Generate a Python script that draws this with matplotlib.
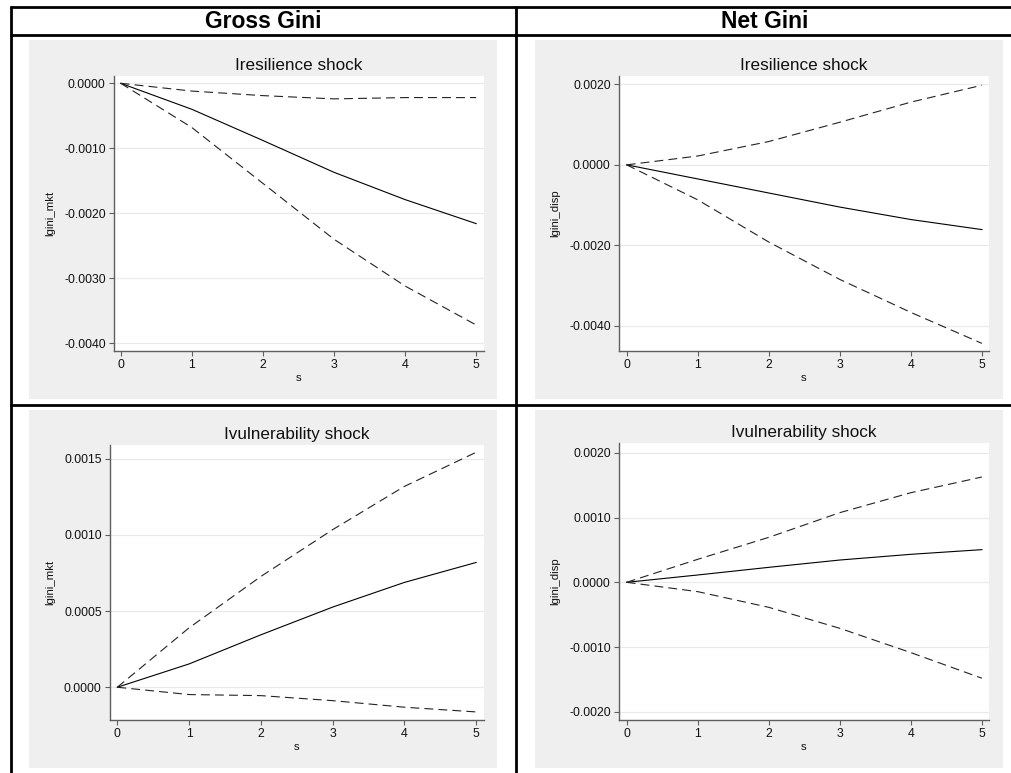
import matplotlib
matplotlib.use("Agg")
import matplotlib.pyplot as plt
from matplotlib.lines import Line2D
from matplotlib.patches import Rectangle
from matplotlib.ticker import FormatStrFormatter

plt.rcParams['font.family'] = ['Liberation Sans', 'DejaVu Sans']
plt.rcParams['axes.unicode_minus'] = False

# ---- data ----
s = [0, 1, 2, 3, 4, 5]
col_titles = ["Gross Gini", "Net Gini"]
panel_titles = ["Iresilience shock", "Iresilience shock", "Ivulnerability shock", "Ivulnerability shock"]
ylabels = ["lgini_mkt", "lgini_disp", "lgini_mkt", "lgini_disp"]

gross_res_irf = [0, -0.00040, -0.00088, -0.00137, -0.00179, -0.00216]
gross_res_lo = [0, -0.00068, -0.00154, -0.00240, -0.00312, -0.00372]
gross_res_hi = [0, -0.00012, -0.00019, -0.00024, -0.00022, -0.00022]

net_res_irf = [0, -0.00035, -0.00070, -0.00105, -0.00136, -0.00161]
net_res_lo = [0, -0.00087, -0.00192, -0.00285, -0.00367, -0.00444]
net_res_hi = [0, 0.00022, 0.00058, 0.00106, 0.00156, 0.00198]

gross_vul_irf = [0, 0.000153, 0.000344, 0.000526, 0.000688, 0.000819]
gross_vul_lo = [0, -0.000048, -0.000055, -0.000088, -0.000131, -0.000162]
gross_vul_hi = [0, 0.000390, 0.000727, 0.001034, 0.001318, 0.001542]

net_vul_irf = [0, 0.000113, 0.000231, 0.000344, 0.000432, 0.000504]
net_vul_lo = [0, -0.000144, -0.000386, -0.000710, -0.001085, -0.001480]
net_vul_hi = [0, 0.000355, 0.000694, 0.001075, 0.001383, 0.001625]

yticks_tl = [-0.004, -0.003, -0.002, -0.001, 0.0]
yticks_tr = [-0.004, -0.002, 0.0, 0.002]
yticks_bl = [0.0, 0.0005, 0.001, 0.0015]
yticks_br = [-0.002, -0.001, 0.0, 0.001, 0.002]

# ---- layout (pixels) ----
W, H = 1011, 773
fig = plt.figure(figsize=(W / 100, H / 100), dpi=100)
fig.patch.set_facecolor('white')

def fx(x):
    return x / W

def fy(y):
    return 1 - y / H

# table lines
lines = [
    ((10, 1011), (6.7, 6.7)),
    ((10, 1011), (35, 35)),
    ((10, 1011), (405, 405)),
    ((11, 11), (6, 773)),
    ((516, 516), (6, 773)),
]
for (x0, x1), (y0, y1) in lines:
    fig.add_artist(Line2D([fx(x0), fx(x1)], [fy(y0), fy(y1)], color='black', lw=2.0,
                          solid_capstyle='butt'))

fig.text(fx(263), fy(21), col_titles[0], ha='center', va='center', fontsize=16.5, fontweight='bold')
fig.text(fx(765), fy(21), col_titles[1], ha='center', va='center', fontsize=16.5, fontweight='bold')

panels = [
    # gray box, axes box (left, right, top, bottom), xlim, ylim, yticks, data
    ((29, 497, 40, 399), (114, 484, 76, 351), (-0.094, 5.11), (-0.00412, 0.000112), yticks_tl,
     (gross_res_irf, gross_res_lo, gross_res_hi)),
    ((535, 1003, 40, 399), (619, 989, 76, 351), (-0.108, 5.10), (-0.00463, 0.00221), yticks_tr,
     (net_res_irf, net_res_lo, net_res_hi)),
    ((29, 497, 410, 768), (110, 484, 445, 720), (-0.102, 5.11), (-0.000215, 0.00159), yticks_bl,
     (gross_vul_irf, gross_vul_lo, gross_vul_hi)),
    ((535, 1003, 410, 768), (619, 989, 443, 720), (-0.108, 5.10), (-0.002125, 0.00215), yticks_br,
     (net_vul_irf, net_vul_lo, net_vul_hi)),
]

axis_col = '#5f5f5f'
dash = (0, (8.0, 4.6))
for i, (gbox, abox, xlim, ylim, yt, (irf, lo, hi)) in enumerate(panels):
    gx0, gx1, gy0, gy1 = gbox
    fig.add_artist(Rectangle((fx(gx0), fy(gy1)), fx(gx1) - fx(gx0), fy(gy0) - fy(gy1),
                             transform=fig.transFigure, facecolor='#efefef', edgecolor='none', zorder=0))
    l, r, t, b = abox
    ax = fig.add_axes([fx(l), fy(b), fx(r) - fx(l), fy(t) - fy(b)])
    ax.set_facecolor('white')
    ax.plot(s, irf, color='black', lw=0.8, zorder=3)
    ax.plot(s, lo, color='#222222', lw=0.8, linestyle=dash, zorder=3)
    ax.plot(s, hi, color='#222222', lw=0.8, linestyle=dash, zorder=3)
    ax.set_xlim(*xlim)
    ax.set_ylim(*ylim)
    ax.set_xticks(s)
    ax.set_yticks(yt)
    ax.yaxis.set_major_formatter(FormatStrFormatter('%.4f'))
    ax.grid(axis='y', color='#eaeaea', lw=0.9, zorder=0)
    ax.set_axisbelow(True)
    for sp in ['top', 'right']:
        ax.spines[sp].set_visible(False)
    for sp in ['left', 'bottom']:
        ax.spines[sp].set_color(axis_col)
        ax.spines[sp].set_linewidth(1.0)
    ax.tick_params(axis='both', colors=axis_col, length=3.5, width=0.8, labelsize=8.8,
                   labelcolor='#111111', pad=2.5)
    ax.set_title(panel_titles[i], fontsize=12.3, pad=4.5, color='#111111')
    ax.set_xlabel('s', fontsize=8.2, labelpad=1.5, color='#111111')
    ax.set_ylabel(ylabels[i], fontsize=8.2, labelpad=6, color='#111111')

fig.savefig('out.png', dpi=100)
